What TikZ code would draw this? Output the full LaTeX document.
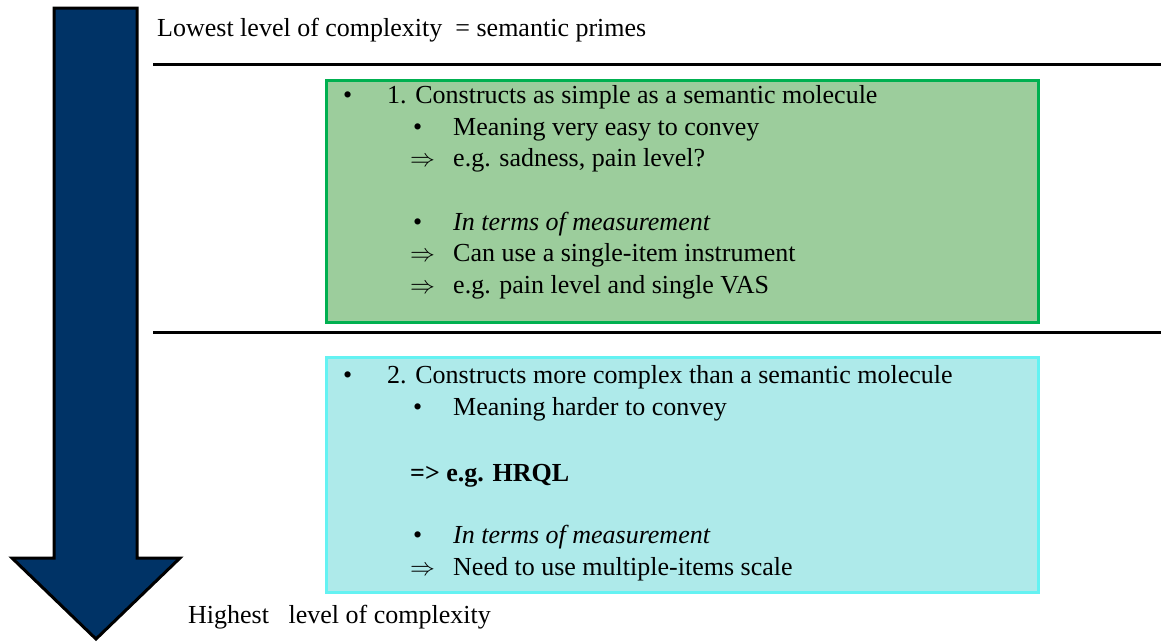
\documentclass[tikz,border=0pt]{standalone}
\usepackage{amsmath}
\usepackage{fontspec}
\setmainfont{Liberation Serif}
\usetikzlibrary{positioning}
\definecolor{navyarrow}{RGB}{0,51,102}
\definecolor{greenline}{RGB}{0,176,80}
\definecolor{greenfill}{RGB}{156,205,156}
\definecolor{cyanline}{RGB}{100,242,242}
\definecolor{cyanfill}{RGB}{174,234,234}

\begin{document}
\begin{tikzpicture}[x=1pt,y=-1pt,
    txt/.style={anchor=base west,inner sep=0pt,font=\fontsize{26}{30}\selectfont},
    sep/.style={line width=3pt}]
    \useasboundingbox (0,0) rectangle (1161,643);
    % big arrow
    \draw[line width=3pt,fill=navyarrow,line join=miter] (54,8) -- (137,8) -- (137,558) -- (180,558)
        -- (96,639) -- (12,558) -- (54,558) -- cycle;
    % separators
    \draw[sep] (153,64) -- (1161,64);
    \draw[sep] (153,332) -- (1161,332);
    % boxes
    \draw[line width=3pt,draw=greenline,fill=greenfill] (326,80) rectangle (1038,322);
    \draw[line width=3pt,draw=cyanline,fill=cyanfill] (326,357) rectangle (1038,592);
    % top and bottom labels
    \node[txt] (low) at (157,36) {Lowest level of complexity\ \ = semantic primes};
    \node[txt] (high) at (188,623) {Highest\ \ \ level of complexity};
    % green box
    \node[txt] (gb1) at (343,103.5) {\textbullet};
    \node[txt] (g1) at (387,103.5) {1. Constructs as simple as a semantic molecule};
    \node[txt] (gb2) at (413,135) {\textbullet};
    \node[txt] (g2) at (453,135) {Meaning very easy to convey};
    \node[txt] (ga3) at (410,166.5) {$\Rightarrow$};
    \node[txt] (g3) at (453,166.5) {e.g. sadness, pain level?};
    \node[txt] (gb4) at (413,230) {\textbullet};
    \node[txt] (g4) at (453,230) {\itshape In terms of measurement};
    \node[txt] (ga5) at (410,261.5) {$\Rightarrow$};
    \node[txt] (g5) at (453,261.5) {Can use a single-item instrument};
    \node[txt] (ga6) at (410,293) {$\Rightarrow$};
    \node[txt] (g6) at (453,293) {e.g. pain level and single VAS};
    % cyan box
    \node[txt] (cb1) at (343,383) {\textbullet};
    \node[txt] (c1) at (387,383) {2. Constructs more complex than a semantic molecule};
    \node[txt] (cb2) at (413,415) {\textbullet};
    \node[txt] (c2) at (453,415) {Meaning harder to convey};
    \node[txt] (c3) at (410,481.5) {\bfseries =>\ e.g. HRQL};
    \node[txt] (cb4) at (413,543) {\textbullet};
    \node[txt] (c4) at (453,543) {\itshape In terms of measurement};
    \node[txt] (ca5) at (410,575) {$\Rightarrow$};
    \node[txt] (c5) at (453,575) {Need to use multiple-items scale};
\end{tikzpicture}
\end{document}
